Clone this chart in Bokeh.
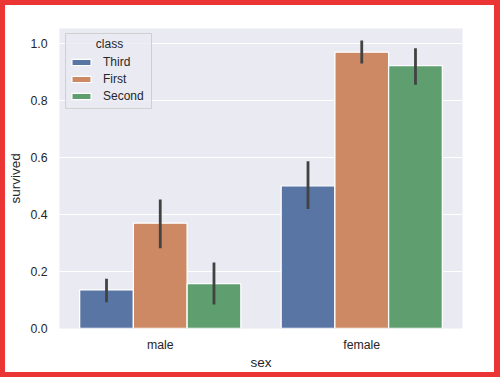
from bokeh.plotting import figure
from bokeh.models import (ColumnDataSource, FactorRange, Range1d, FixedTicker,
                          PrintfTickFormatter, Legend, LegendItem, Label,
                          BoxAnnotation, GlobalInlineStyleSheet)
from bokeh.transform import dodge
from bokeh.embed import file_html
from bokeh.resources import INLINE

# ---- data ----
sexes = ["male", "female"]
classes = ["Third", "First", "Second"]
survived_third = [0.135, 0.500]
survived_first = [0.369, 0.968]
survived_second = [0.157, 0.921]
ci_low_third = [0.092, 0.419]
ci_high_third = [0.174, 0.586]
ci_low_first = [0.281, 0.928]
ci_high_first = [0.452, 1.009]
ci_low_second = [0.084, 0.854]
ci_high_second = [0.231, 0.982]
y_ticks = [0.0, 0.2, 0.4, 0.6, 0.8, 1.0]
colors = ["#5975A4", "#CC8963", "#5F9E6E"]

values = [survived_third, survived_first, survived_second]
lows = [ci_low_third, ci_low_first, ci_low_second]
highs = [ci_high_third, ci_high_first, ci_high_second]

FONT = "Liberation Sans"
TXT = "#262626"

page_css = GlobalInlineStyleSheet(
    css="html,body{margin:0;padding:0;overflow:hidden;background:#EB3434;}"
        "body{padding:5px;}")

p = figure(width=489, height=367, x_range=FactorRange(factors=sexes),
           y_range=Range1d(0, 1.051), output_backend="svg",
           toolbar_location=None, min_border_left=54, min_border_right=32,
           min_border_top=23, min_border_bottom=43)
p.stylesheets = [page_css]
p.styles = {"background-color": "white"}
p.background_fill_color = "#EAEAF2"
p.border_fill_color = "white"
p.outline_line_color = None

# legend frame (drawn under the legend title text)
legend_box = BoxAnnotation(left=0.030, right=0.4566, top=1.0335, bottom=0.771,
                           fill_color="#EAEAF2", fill_alpha=0.8,
                           line_color="#CCCCCC", line_alpha=0.9, line_width=1,
                           level="underlay")
p.add_layout(legend_box)

w = 0.8 / 3
offsets = [-w, 0.0, w]
items = []
for cls, vals, lo, hi, col, off in zip(classes, values, lows, highs, colors, offsets):
    src = ColumnDataSource(dict(sex=sexes, value=vals, lo=lo, hi=hi))
    r = p.vbar(x=dodge("sex", off, range=p.x_range), top="value", width=w,
               source=src, fill_color=col, line_color="white", line_width=1.3)
    p.segment(x0=dodge("sex", off, range=p.x_range), x1=dodge("sex", off, range=p.x_range),
              y0="lo", y1="hi", source=src, line_color="#424242", line_width=2.8)
    items.append(LegendItem(label=cls, renderers=[r]))

# axes
for ax in (p.xaxis, p.yaxis):
    ax.axis_line_color = None
    ax.major_tick_line_color = None
    ax.minor_tick_line_color = None
    ax.major_tick_out = 0
    ax.major_tick_in = 0
    ax.minor_tick_out = 0
    ax.minor_tick_in = 0
    ax.major_label_text_font = FONT
    ax.major_label_text_font_size = "12.3px"
    ax.major_label_text_color = TXT
    ax.axis_label_text_font = FONT
    ax.axis_label_text_font_size = "13.5px"
    ax.axis_label_text_font_style = "normal"
    ax.axis_label_text_color = TXT

p.xaxis.axis_label = "sex"
p.yaxis.axis_label = "survived"
p.xaxis.major_label_standoff = 9
p.xaxis.axis_label_standoff = 0
p.yaxis.major_label_standoff = 12
p.yaxis.axis_label_standoff = 4
p.yaxis.ticker = FixedTicker(ticks=y_ticks)
p.yaxis.formatter = PrintfTickFormatter(format="%.1f")

p.xgrid.grid_line_color = None
p.ygrid.ticker = FixedTicker(ticks=y_ticks)
p.ygrid.grid_line_color = "white"
p.ygrid.grid_line_width = 1.2

legend = Legend(items=items, location="top_left", title="\u00a0",
                title_text_font=FONT, title_text_font_size="12px",
                title_standoff=3,
                label_text_font=FONT, label_text_font_size="12px",
                label_text_color=TXT, label_standoff=10, label_height=13,
                glyph_width=24, glyph_height=8, spacing=3, padding=4, margin=6,
                background_fill_alpha=0, border_line_alpha=0)
p.add_layout(legend)

title_label = Label(x=50, y=0.998, x_units="screen", y_units="data", text="class",
                    text_font=FONT, text_font_size="12px", text_color=TXT,
                    text_align="center", text_baseline="middle", level="overlay")
p.add_layout(title_label)

open("out.html", "w").write(file_html(p, INLINE))
